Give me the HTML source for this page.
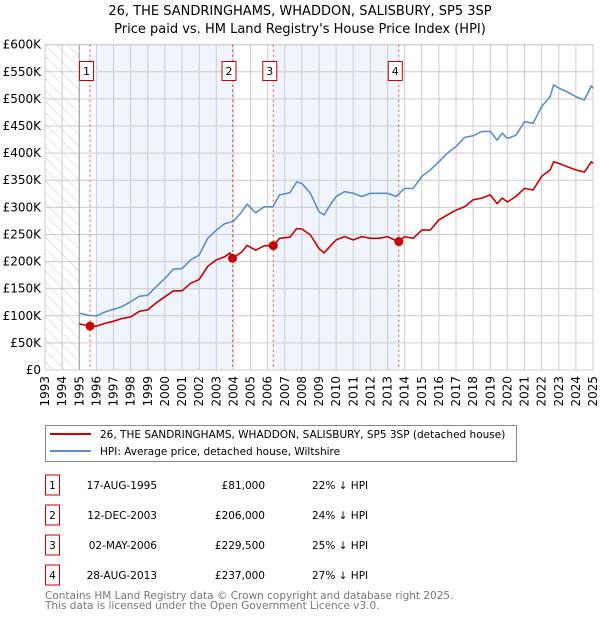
<!DOCTYPE html>
<html><head><meta charset="utf-8"><style>
body{margin:0;background:#fff;font-family:"Liberation Sans","DejaVu Sans",sans-serif}
svg text{font-family:"DejaVu Sans","Liberation Sans",sans-serif}
</style></head><body>
<svg id="c" width="600" height="620" viewBox="0 0 600 620" xmlns="http://www.w3.org/2000/svg">
<defs><pattern id="hatch" width="8" height="8" patternUnits="userSpaceOnUse" patternTransform="rotate(-45)"><line x1="0" y1="0" x2="0" y2="8" stroke="#ccc" stroke-width="1"/></pattern></defs>
<text x="300" y="15" text-anchor="middle" font-size="13" fill="#000">26, THE SANDRINGHAMS, WHADDON, SALISBURY, SP5 3SP</text>
<text x="300" y="33" text-anchor="middle" font-size="13" fill="#000">Price paid vs. HM Land Registry's House Price Index (HPI)</text>
<g id="plot"></g>
<g>
<rect x="45.5" y="425.5" width="471" height="36" fill="#fff" stroke="#888"/>
<line x1="50" y1="434" x2="91" y2="434" stroke="#cc0000" stroke-width="2"/>
<text x="100" y="438" font-size="10.5">26, THE SANDRINGHAMS, WHADDON, SALISBURY, SP5 3SP (detached house)</text>
<line x1="50" y1="451" x2="91" y2="451" stroke="#5b8fd0" stroke-width="2"/>
<text x="100" y="455" font-size="10.5">HPI: Average price, detached house, Wiltshire</text>
</g>
<g id="table" font-size="10.5"></g>
<text x="45" y="599" font-size="10.5" fill="#777">Contains HM Land Registry data © Crown copyright and database right 2025.</text>
<text x="45" y="609" font-size="10.5" fill="#777">This data is licensed under the Open Government Licence v3.0.</text>
</svg>
<script>
const hpiYears=[1995.0,1995.5,1996.0,1996.5,1997.0,1997.5,1998.0,1998.5,1999.0,1999.5,2000.0,2000.5,2001.0,2001.5,2002.0,2002.5,2003.0,2003.5,2004.0,2004.5,2004.8,2005.3,2005.8,2006.3,2006.7,2007.3,2007.7,2008.0,2008.5,2009.0,2009.3,2009.7,2010.0,2010.5,2011.0,2011.5,2012.0,2012.5,2013.0,2013.5,2014.0,2014.5,2015.0,2015.5,2016.0,2016.5,2017.0,2017.5,2018.0,2018.5,2019.0,2019.4,2019.7,2020.0,2020.5,2021.0,2021.5,2022.0,2022.5,2022.7,2023.0,2023.5,2024.0,2024.5,2024.9,2025.0];
const hpiValues=[105,101,100,107,112,117,126,136,138,154,169,186,187,203,212,243,258,270,274,292,306,290,301,301,323,327,347,344,326,292,286,307,320,329,326,320,326,326,326,320,335,335,357,369,384,400,412,429,432,440,440,424,437,427,433,458,455,486,504,526,520,513,504,498,524,520];
const propYears=[1995.0,1995.63,1996.0,1996.5,1997.0,1997.5,1998.0,1998.5,1999.0,1999.5,2000.0,2000.5,2001.0,2001.5,2002.0,2002.5,2003.0,2003.5,2003.8,2003.95,2004.5,2004.8,2005.3,2005.8,2006.33,2006.7,2007.3,2007.7,2008.0,2008.5,2009.0,2009.3,2009.7,2010.0,2010.5,2011.0,2011.5,2012.0,2012.5,2013.0,2013.4,2013.66,2014.0,2014.5,2015.0,2015.5,2016.0,2016.5,2017.0,2017.5,2018.0,2018.5,2019.0,2019.4,2019.7,2020.0,2020.5,2021.0,2021.5,2022.0,2022.5,2022.7,2023.0,2023.5,2024.0,2024.5,2024.9,2025.0];
const propValues=[85,81,81,86,90,95,98,108,111,124,135,146,146,160,167,191,203,209,216,206,218,230,221,229,229.5,243,245,261,260,249,224,216,230,240,246,240,246,243,243,246,240,237,246,243,258,258,277,286,295,301,314,317,323,307,317,310,320,335,332,357,369,384,381,375,369,365,384,381];
const saleLabels=["1","2","3","4"];
const saleYears=[1995.63,2003.95,2006.33,2013.66];
const salePrices=[81000,206000,229500,237000];
const saleDates=["17-AUG-1995","12-DEC-2003","02-MAY-2006","28-AUG-2013"];
const salePriceText=["£81,000","£206,000","£229,500","£237,000"];
const saleHpiText=["22% ↓ HPI","24% ↓ HPI","25% ↓ HPI","27% ↓ HPI"];
const yTicks=[0,50,100,150,200,250,300,350,400,450,500,550,600];
const yTickLabels=["£0","£50K","£100K","£150K","£200K","£250K","£300K","£350K","£400K","£450K","£500K","£550K","£600K"];
const xTicks=[1993,1994,1995,1996,1997,1998,1999,2000,2001,2002,2003,2004,2005,2006,2007,2008,2009,2010,2011,2012,2013,2014,2015,2016,2017,2018,2019,2020,2021,2022,2023,2024,2025];

const NS="http://www.w3.org/2000/svg";
const X0=45,X1=593,Y0=370,Y1=44.7;
const xs=y=>X0+(y-1993)/(2025-1993)*(X1-X0);
const ys=v=>Y0-v/600*(Y0-Y1);
const plot=document.getElementById('plot');
function mk(tag,attrs,parent){const e=document.createElementNS(NS,tag);for(const k in attrs)e.setAttribute(k,attrs[k]);(parent||plot).appendChild(e);return e;}
let r=mk('rect',{x:xs(1993),y:Y1,width:xs(1995)-xs(1993),height:Y0-Y1,fill:'url(#hatch)'});


r=mk('rect',{x:xs(1996),y:Y1,width:xs(saleYears[1])-xs(1996),height:Y0-Y1,fill:'#f0f4fc'});


r=mk('rect',{x:xs(saleYears[2]),y:Y1,width:xs(saleYears[3])-xs(saleYears[2]),height:Y0-Y1,fill:'#f0f4fc'});


yTicks.forEach((t,i)=>{
 const l=mk('line',{x1:X0,x2:X1,y1:ys(t),y2:ys(t),stroke:'#ccc','stroke-width':1});
 
 
 const tx=mk('text',{x:X0-4,y:ys(t)+4,'text-anchor':'end','font-size':12});
 tx.textContent=yTickLabels[i];
 
 
});
xTicks.forEach(t=>{
 const l=mk('line',{x1:xs(t),x2:xs(t),y1:Y1,y2:Y0,stroke:'#ccc','stroke-width':1});
 
 
 const tx=mk('text',{x:0,y:0,'text-anchor':'end','font-size':12,transform:`translate(${xs(t)+4},${Y0+6}) rotate(-90)`});
 tx.textContent=t;
 
 
});
let ax=mk('line',{x1:xs(1995),x2:xs(1995),y1:Y1,y2:Y0,stroke:'#999','stroke-width':1});


ax=mk('rect',{x:X0,y:Y1,width:X1-X0,height:Y0-Y1,fill:'none',stroke:'#ccc'});


saleYears.forEach((y,i)=>{
 const l=mk('line',{x1:xs(y),x2:xs(y),y1:Y1,y2:Y0,stroke:'#ee4444','stroke-width':1,'stroke-dasharray':'2,3'});
 
 
});
function path(xa,va,col,name){
 const d=xa.map((x,i)=>(i?'L':'M')+xs(x).toFixed(1)+','+ys(va[i]).toFixed(1)).join('');
 const p=mk('path',{d:d,fill:'none',stroke:col,'stroke-width':1.6,'stroke-linejoin':'round'});
 
 
}
path(hpiYears,hpiValues,'#5b8fd0','hpi-line');
path(propYears,propValues,'#cc0000','property-line');
saleYears.forEach((y,i)=>{
 const c=mk('circle',{cx:xs(y),cy:ys(salePrices[i]/1000),r:4.5,fill:'#cc0000'});
 
 
 const b=mk('rect',{x:xs(y)-10.5,y:61.5,width:14,height:19,fill:'#fff',stroke:'#cc0000'});
 
 
 const t=mk('text',{x:xs(y)-3.5,y:75,'text-anchor':'middle','font-size':11});
 t.textContent=saleLabels[i];
 
 
});
const tb=document.getElementById('table');
saleLabels.forEach((lab,i)=>{
 const cy=485+i*30;
 const b=mk('rect',{x:45.5,y:cy-10,width:14,height:20,fill:'#fff',stroke:'#cc0000'},tb);
 
 
 const cells=[[52.5,'middle',lab,'row-number'],[157,'end',saleDates[i],'sale-date'],[265,'end',salePriceText[i],'sale-price'],[312,'start',saleHpiText[i],'sale-hpi-diff']];
 cells.forEach(c=>{
  const t=mk('text',{x:c[0],y:cy+4,'text-anchor':c[1]},tb);
  t.textContent=c[2];
  
  
 });
});
</script>
</body></html>
